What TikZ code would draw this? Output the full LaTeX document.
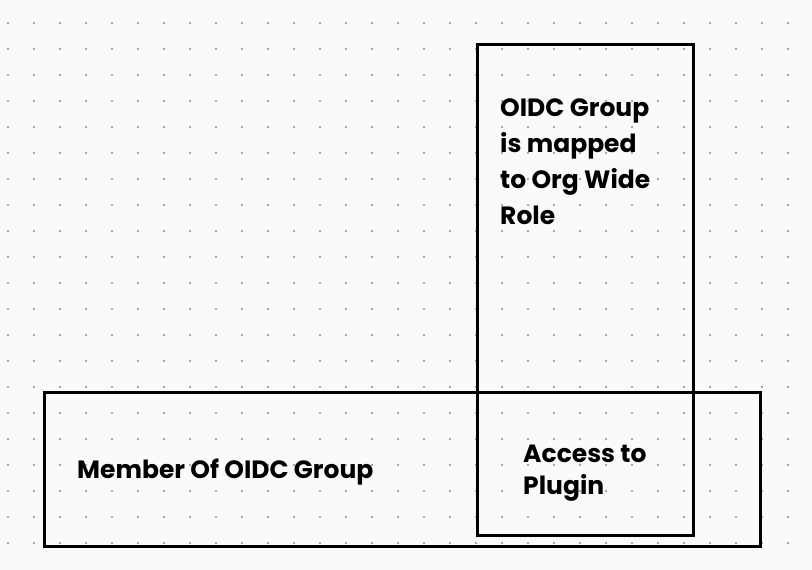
\documentclass[tikz,border=0pt]{standalone}
\usepackage{fontspec}
\setmainfont{Poppins}
\definecolor{bgc}{HTML}{FAFAFA}
\definecolor{dotc}{HTML}{8C8C8C}
\tikzset{
  boxframe/.style={draw=black, line width=3pt, inner sep=0pt, outer sep=0pt},
  lbl/.style={anchor=base west, inner sep=0pt, font=\fontsize{25}{36}\selectfont\bfseries, align=left, text=black},
}
\begin{document}
\begin{tikzpicture}[x=1pt,y=-1pt]
\fill[bgc] (0,0) rectangle (812,570);
\useasboundingbox (0,0) rectangle (812,570);
\foreach \i in {0,...,30} {
  \foreach \j in {0,...,20} {
    \fill[dotc] ({8+26*\i},{23+26*\j}) circle (1.1pt);
  }
}
\node[boxframe, minimum width=216pt, minimum height=491pt, anchor=north west] (tall) at (477,44) {};
\node[boxframe, minimum width=716pt, minimum height=154pt, anchor=north west] (wide) at (44,392) {};
\node[lbl] (t1) at (500,116) {OIDC Group};
\node[lbl] (t2) at (500,152) {is mapped};
\node[lbl] (t3) at (500,188) {to Org Wide};
\node[lbl] (t4) at (500,224) {Role};
\node[lbl] (m) at (77,478) {Member Of OIDC Group};
\node[lbl] (a1) at (523,462) {Access to};
\node[lbl] (a2) at (523,494) {Plugin};
\end{tikzpicture}
\end{document}
